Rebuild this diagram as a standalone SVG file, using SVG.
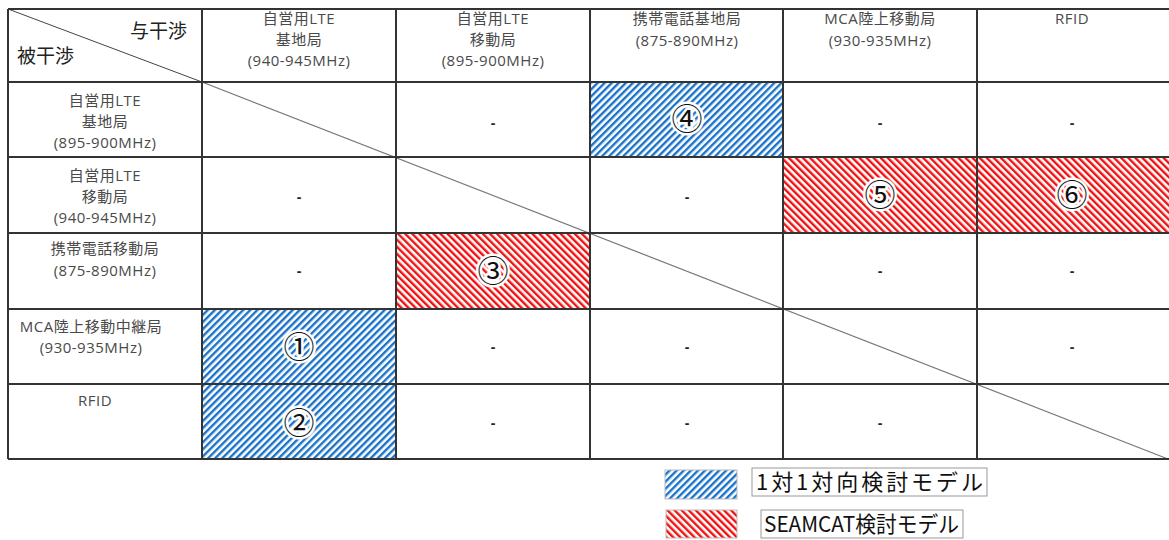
<svg xmlns="http://www.w3.org/2000/svg" width="1169" height="540" viewBox="0 0 1169 540">
<defs>
<pattern id="hb" patternUnits="userSpaceOnUse" width="5" height="5" patternTransform="rotate(45)">
<rect width="5" height="5" fill="#fff"/><rect width="2.4" height="5" fill="#1a73c8"/>
</pattern>
<pattern id="hr" patternUnits="userSpaceOnUse" width="5" height="5" patternTransform="rotate(-45)">
<rect width="5" height="5" fill="#fff"/><rect width="2.4" height="5" fill="#f01010"/>
</pattern>
<style>
.h{font-family:"Open Sans","Noto Sans CJK JP",sans-serif;font-size:15px;fill:#4a4a4a;text-anchor:middle;letter-spacing:0.5px}
.c{font-family:"Noto Sans CJK JP",sans-serif;font-size:19px;fill:#222}
.d{font-family:"Liberation Sans",sans-serif;font-size:14px;font-weight:bold;fill:#222;text-anchor:middle}
.n{font-family:"Noto Sans CJK JP",sans-serif;font-size:31px;fill:#111;text-anchor:middle;stroke:#fff;stroke-width:5px;paint-order:stroke;stroke-linejoin:round}
.g{stroke:#333;stroke-width:2;fill:none}
.l{font-family:"Noto Sans CJK JP",sans-serif;font-size:22px;fill:#111}
</style>
</defs>
<rect width="1169" height="540" fill="#fff"/>
<g id="cells">
<rect id="c4" x="590" y="82" width="193" height="75" fill="url(#hb)"/>
<rect id="c5" x="783" y="157" width="194" height="76" fill="url(#hr)"/>
<rect id="c6" x="977" y="157" width="192" height="76" fill="url(#hr)"/>
<rect id="c3" x="396" y="233" width="194" height="76" fill="url(#hr)"/>
<rect id="c1" x="202" y="309" width="194" height="75" fill="url(#hb)"/>
<rect id="c2" x="202" y="384" width="194" height="75" fill="url(#hb)"/>
</g>
<g id="connectors">
<line x1="8" y1="9" x2="202" y2="82" stroke="#444" stroke-width="1"/>
<line x1="202" y1="82" x2="1168" y2="459" stroke="#777" stroke-width="1.2"/>
</g>
<g id="grid" class="g">
<path d="M8 9H1169M8 82H1169M8 157H1169M8 233H1169M8 309H1169M8 384H1169M8 459H1169"/>
<path d="M8 9V459M202 9V459M396 9V459M590 9V459M783 9V459M977 9V459"/>
</g>
<g id="corner">
<text class="c" x="130" y="38">与干渉</text>
<text class="c" x="17" y="63">被干渉</text>
</g>
<g id="colheads">
<text class="h" x="299" y="24">自営用LTE</text><text class="h" x="299" y="45">基地局</text><text class="h" x="299" y="66">(940-945MHz)</text>
<text class="h" x="493" y="24">自営用LTE</text><text class="h" x="493" y="45">移動局</text><text class="h" x="493" y="66">(895-900MHz)</text>
<text class="h" x="687" y="24">携帯電話基地局</text><text class="h" x="687" y="46">(875-890MHz)</text>
<text class="h" x="880" y="24">MCA陸上移動局</text><text class="h" x="880" y="46">(930-935MHz)</text>
<text class="h" x="1072" y="24">RFID</text>
</g>
<g id="rowheads">
<text class="h" x="105" y="106">自営用LTE</text><text class="h" x="105" y="127">基地局</text><text class="h" x="105" y="148">(895-900MHz)</text>
<text class="h" x="105" y="181">自営用LTE</text><text class="h" x="105" y="202">移動局</text><text class="h" x="105" y="223">(940-945MHz)</text>
<text class="h" x="105" y="254">携帯電話移動局</text><text class="h" x="105" y="276">(875-890MHz)</text>
<text class="h" x="91" y="332">MCA陸上移動中継局</text><text class="h" x="91" y="353">(930-935MHz)</text>
<text class="h" x="95" y="406">RFID</text>
</g>
<g id="dashes">
<text class="d" x="493" y="128">-</text><text class="d" x="880" y="128">-</text><text class="d" x="1072" y="128">-</text>
<text class="d" x="299" y="202">-</text><text class="d" x="687" y="202">-</text>
<text class="d" x="299" y="276">-</text><text class="d" x="880" y="276">-</text><text class="d" x="1072" y="276">-</text>
<text class="d" x="493" y="352">-</text><text class="d" x="687" y="352">-</text><text class="d" x="1072" y="352">-</text>
<text class="d" x="493" y="428">-</text><text class="d" x="687" y="428">-</text><text class="d" x="880" y="428">-</text>
</g>
<g id="nums">
<text class="n" x="687" y="130">④</text>
<text class="n" x="880" y="206">⑤</text>
<text class="n" x="1072" y="206">⑥</text>
<text class="n" x="493" y="282">③</text>
<text class="n" x="299" y="358">①</text>
<text class="n" x="299" y="434">②</text>
</g>
<g id="legend">
<rect x="665" y="470" width="72" height="29" fill="url(#hb)" stroke="#bbb" stroke-width="1"/>
<rect x="752" y="468" width="235" height="28" fill="#fff" stroke="#999" stroke-width="1"/>
<text class="l" x="756" y="490" textLength="227" lengthAdjust="spacing">1対1対向検討モデル</text>
<rect x="666" y="510" width="71" height="28" fill="url(#hr)" stroke="#bbb" stroke-width="1"/>
<rect x="761" y="510" width="202" height="28" fill="#fff" stroke="#999" stroke-width="1"/>
<text class="l" x="764" y="532" textLength="195" lengthAdjust="spacingAndGlyphs">SEAMCAT検討モデル</text>
</g>
</svg>
